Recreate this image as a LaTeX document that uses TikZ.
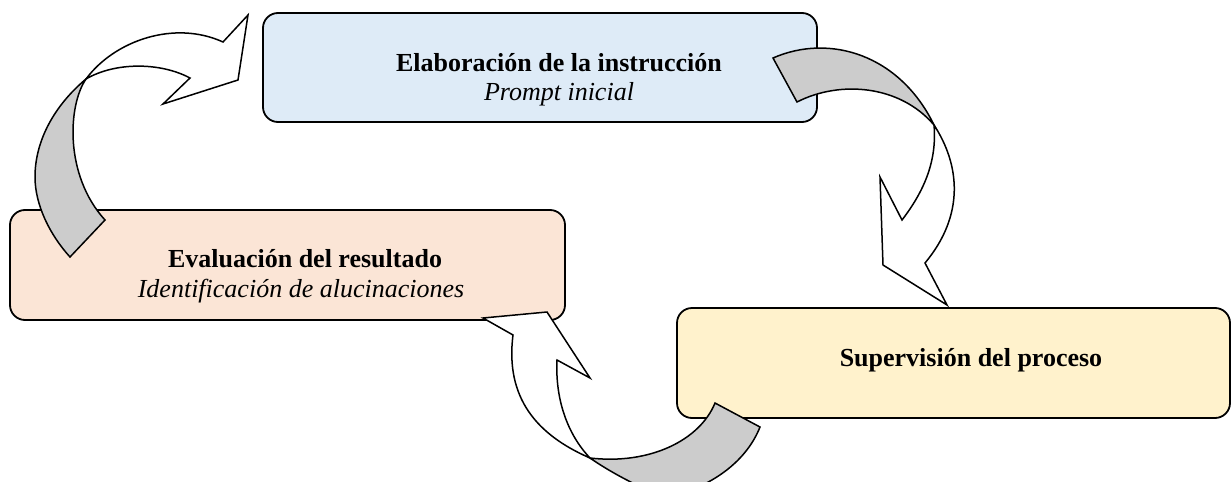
\documentclass[tikz,border=0pt]{standalone}
\usepackage{fontspec}
\setmainfont{Liberation Serif}
\definecolor{boxblue}{RGB}{222,235,247}
\definecolor{boxpeach}{RGB}{251,229,214}
\definecolor{boxyellow}{RGB}{255,242,204}
\definecolor{backgray}{RGB}{204,204,204}
\tikzset{
  stagebox/.style={draw=black, line width=1.8pt, rounded corners=15pt, inner sep=0pt},
  titletext/.style={font=\fontsize{26}{30}\selectfont\bfseries, anchor=base, inner sep=0pt},
  subtext/.style={font=\fontsize{26}{30}\selectfont\itshape, anchor=base, inner sep=0pt},
  backribbon/.style={draw=black, fill=backgray, line width=1.5pt, line join=miter},
  frontribbon/.style={draw=black, fill=white, line width=1.5pt, line join=miter},
}
\begin{document}
\begin{tikzpicture}[x=1pt,y=-1pt]
\useasboundingbox (0,0) rectangle (1232,482);
% boxes
\node[stagebox, fill=boxblue, minimum width=554pt, minimum height=109pt] (elab) at (540,67.5) {};
\node[stagebox, fill=boxpeach, minimum width=555pt, minimum height=110pt] (eval) at (287.5,265) {};
\node[stagebox, fill=boxyellow, minimum width=553pt, minimum height=110pt] (superv) at (953.5,363) {};

% arrow 1 (evaluation -> elaboration)
\filldraw[backribbon] (86,79) .. controls (68,105) and (64,175) .. (105,220)
  -- (70,257) .. controls (50,235) and (35,205) .. (35,177)
  .. controls (35,140) and (55,105) .. (86,79) -- cycle;
\filldraw[frontribbon] (86,79) .. controls (115,40) and (175,20) .. (223,42)
  -- (248,15) -- (238,80) -- (163,104) -- (190,78)
  .. controls (160,62) and (115,62) .. (86,79) -- cycle;

% arrow 2 (elaboration -> supervision)
\filldraw[backribbon] (773,58) -- (797,102) .. controls (840,80) and (900,85) .. (934,125)
  .. controls (900,55) and (830,33) .. (773,58) -- cycle;
\filldraw[frontribbon] (934,125) .. controls (960,165) and (965,215) .. (925,263)
  -- (947,305) -- (883,265) -- (880,177) -- (902,220)
  .. controls (925,190) and (937,160) .. (934,125) -- cycle;

% arrow 3 (supervision -> evaluation)
\filldraw[backribbon] (715,403) -- (760,427) .. controls (745,465) and (705,490) .. (665,497)
  .. controls (640,488) and (610,472) .. (590,458)
  .. controls (650,465) and (700,440) .. (715,403) -- cycle;
\filldraw[frontribbon] (590,458) .. controls (537,435) and (505,398) .. (513,335)
  -- (483,318) -- (547,312) -- (590,378) -- (557,360)
  .. controls (555,400) and (568,435) .. (590,458) -- cycle;

% texts
\node[titletext] (elabT) at (559,71) {Elaboración de la instrucción};
\node[subtext] (elabS) at (559,100) {Prompt inicial};
\node[titletext] (evalT) at (305,267) {Evaluación del resultado};
\node[subtext] (evalS) at (301,297) {Identificación de alucinaciones};
\node[titletext] (supervT) at (971,366) {Supervisión del proceso};
\end{tikzpicture}
\end{document}
